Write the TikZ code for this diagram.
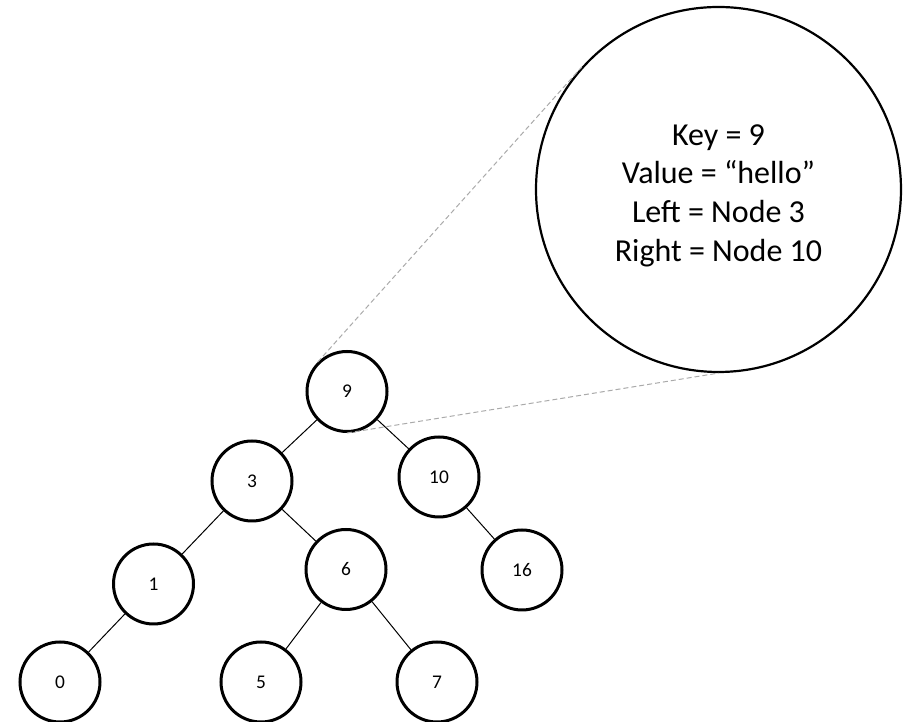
\documentclass[tikz,border=0pt]{standalone}
\usepackage{fontspec}
\setmainfont{Carlito}
\usepackage{tikz}
\usetikzlibrary{positioning, calc}
\definecolor{zoomgrey}{RGB}{170, 170, 170}

\begin{document}
\begin{tikzpicture}[
    node distance=2cm,
    keynode/.style={circle, draw=black, line width=1.5pt, minimum size=40pt, inner sep=0pt, font=\fontsize{9.7}{12}\selectfont},
    detailnode/.style={circle, draw=black, line width=1.1pt, minimum size=182.5pt, inner sep=0pt, align=center, font=\fontsize{16}{19.3}\selectfont},
    link/.style={line width=0.5pt, black},
    zoomline/.style={line width=0.5pt, zoomgrey, dash pattern=on 2.5pt off 1.5pt}
]
\useasboundingbox (0,0) rectangle (456pt,361pt);

% the tree
\node[keynode] (k9) at (173.5pt,165.25pt) {9};
\node[keynode, on grid, below left=44.75pt and 47.5pt of k9] (k3) {3};
\node[keynode, on grid, below right=42.75pt and 46pt of k9] (k10) {10};
\node[keynode, on grid, below left=51.5pt and 49.25pt of k3] (k1) {1};
\node[keynode, on grid, below right=44.25pt and 47pt of k3] (k6) {6};
\node[keynode, on grid, below right=46.5pt and 41.5pt of k10] (k16) {16};
\node[keynode, on grid, below left=49pt and 46.75pt of k1] (k0) {0};
\node[keynode, on grid, below left=56.25pt and 42.5pt of k6] (k5) {5};
\node[keynode, on grid, below right=56.25pt and 45.5pt of k6] (k7) {7};

\draw[link] (k9) -- (k3);
\draw[link] (k9) -- (k10);
\draw[link] (k3) -- (k1);
\draw[link] (k3) -- (k6);
\draw[link] (k10) -- (k16);
\draw[link] (k1) -- (k0);
\draw[link] (k6) -- (k5);
\draw[link] (k6) -- (k7);

% zoomed view of the root
\node[detailnode] (detail) at (359.25pt,266.25pt) {\rule{0pt}{16.5pt}Key = 9\\Value = “hello”\\Left = Node 3\\Right = Node 10};

\coordinate (touch) at (tangent cs:node=detail,point={(k9.north west)},solution=2);
\draw[zoomline] (k9.north west) -- (touch);
\draw[zoomline] (k9.south) -- (detail.south);

\end{tikzpicture}
\end{document}
